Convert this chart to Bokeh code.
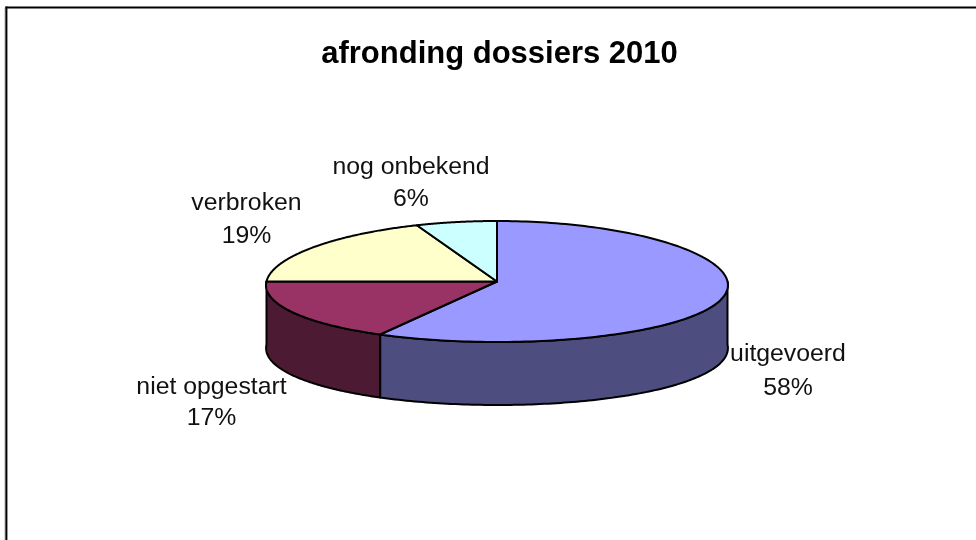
import numpy as np
from bokeh.plotting import figure
from bokeh.models import Range1d
from bokeh.embed import file_html
from bokeh.resources import INLINE
from bokeh.core.properties import value

title = "afronding dossiers 2010"
categories = ["uitgevoerd", "niet opgestart", "verbroken", "nog onbekend"]
percents = [58, 17, 19, 6]
top_colors = ["#9999FF", "#993366", "#FFFFCC", "#CCFFFF"]
side_colors = ["#4D4D80", "#4D1A33", "#808066", "#668080"]
label_x = [787.5, 211, 246, 410.5]
label_y = [352, 385, 201, 165]
pct_y = [386, 416, 234, 197]

W, H = 976, 540
cx, cy, rx, ry, depth = 496.5, 281, 230.5, 60.5, 63
perspective = 0.06
FONT = "Liberation Sans"

p = figure(width=W, height=H, output_backend="svg", toolbar_location=None,
           x_range=Range1d(0, W), y_range=Range1d(H, 0),
           min_border=0, outline_line_color=None,
           background_fill_color="white", border_fill_color="white",
           styles={"position": "fixed", "left": "0px", "top": "0px"})
p.axis.visible = False
p.grid.visible = False


def ex(t):
    # the front of the tilted disc looks slightly wider than its back
    return cx + rx * np.sin(t) * (1 - perspective * np.cos(t))


def ey(t):
    return cy - ry * np.cos(t)


fractions = np.array(percents, dtype=float) / sum(percents)
edges = np.concatenate([[0.0], np.cumsum(fractions)]) * 2 * np.pi

# sides (only the front half of the ellipse is visible)
sx, sy, sc = [], [], []
for a, b, c in zip(edges[:-1], edges[1:], side_colors):
    lo, hi = max(a, np.pi / 2), min(b, 3 * np.pi / 2)
    if hi <= lo:
        continue
    t = np.linspace(lo, hi, 120)
    sx.append(np.concatenate([ex(t), ex(t[::-1])]))
    sy.append(np.concatenate([ey(t), ey(t[::-1]) + depth]))
    sc.append(c)
p.patches(sx, sy, fill_color=sc, line_color="black", line_width=2, line_join="round")

# top faces
tx, ty = [], []
for a, b in zip(edges[:-1], edges[1:]):
    t = np.linspace(a, b, 160)
    tx.append(np.concatenate([[cx], ex(t)]))
    ty.append(np.concatenate([[cy], ey(t)]))
p.patches(tx, ty, fill_color=top_colors, line_color="black", line_width=2, line_join="round")

# frame (only top and left edges fall inside the picture)
p.line([4.5, 4.5], [7, H], line_color="#b0b0b0", line_width=1)
p.line([5.9, 5.9], [6, H], line_color="black", line_width=2)
p.line([5, W], [6.9, 6.9], line_color="black", line_width=2)

# labels
p.text(x=[499], y=[52], text=[title], text_font=value(FONT), text_font_style="bold",
       text_font_size="31px", text_align="center", text_baseline="middle", text_color="black")
p.text(x=label_x, y=label_y, text=categories, text_font=value(FONT), text_font_size="24.8px",
       text_align="center", text_baseline="middle", text_color="#111111")
p.text(x=label_x, y=pct_y, text=[f"{v}%" for v in percents],
       text_font=value(FONT), text_font_size="24.8px",
       text_align="center", text_baseline="middle", text_color="#111111")

open("out.html", "w").write(file_html(p, INLINE))
